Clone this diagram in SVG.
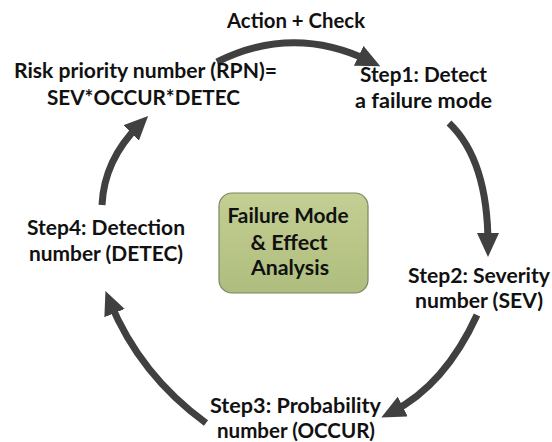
<svg xmlns="http://www.w3.org/2000/svg" width="552" height="442" viewBox="0 0 552 442">
<style>
  text { font-family: Lato, "Open Sans", "Liberation Sans", sans-serif; font-weight: 700; font-size: 21px; fill: #111; text-anchor: middle; }
  .arc { fill: none; stroke: #404040; stroke-width: 7; marker-end: url(#ah); }
</style>
<defs>
  <marker id="ah" markerUnits="userSpaceOnUse" markerWidth="26" markerHeight="24" refX="12" refY="11" orient="auto">
    <path d="M0,0 L24,11 L0,22 Z" fill="#404040"/>
  </marker>
  <linearGradient id="g" x1="0" y1="0" x2="0" y2="1">
    <stop offset="0" stop-color="#c4cf93"/>
    <stop offset="1" stop-color="#aebd7d"/>
  </linearGradient>
</defs>
<rect width="552" height="442" fill="#fff"/>
<g id="connectors">
  <path class="arc" d="M217,62 Q293,24 369.5,61"/>
  <path class="arc" d="M449,123 Q488,160 488,245"/>
  <path class="arc" d="M477,315 Q445,385 392,412"/>
  <path class="arc" d="M206,423 Q140,375 110,302"/>
  <path class="arc" d="M102,205 Q104,160 139.6,124.5"/>
</g>
<g id="action">
  <text x="296" y="28" textLength="138" lengthAdjust="spacingAndGlyphs">Action + Check</text>
</g>
<g id="rpn">
  <text x="145.5" y="78" textLength="263" lengthAdjust="spacingAndGlyphs">Risk priority number (RPN)=</text>
  <text x="143.5" y="105" textLength="193" lengthAdjust="spacingAndGlyphs">SEV*OCCUR*DETEC</text>
</g>
<g id="step1">
  <text x="423.5" y="82" textLength="127" lengthAdjust="spacingAndGlyphs">Step1: Detect</text>
  <text x="423.5" y="108" textLength="137" lengthAdjust="spacingAndGlyphs">a failure mode</text>
</g>
<g id="step2">
  <text x="479" y="283" textLength="142" lengthAdjust="spacingAndGlyphs">Step2: Severity</text>
  <text x="479" y="308" textLength="128" lengthAdjust="spacingAndGlyphs">number (SEV)</text>
</g>
<g id="step3">
  <text x="295.5" y="413" textLength="171" lengthAdjust="spacingAndGlyphs">Step3: Probability</text>
  <text x="296" y="438" textLength="158" lengthAdjust="spacingAndGlyphs">number (OCCUR)</text>
</g>
<g id="step4">
  <text x="106" y="235" textLength="158" lengthAdjust="spacingAndGlyphs">Step4: Detection</text>
  <text x="106" y="261" textLength="154" lengthAdjust="spacingAndGlyphs">number (DETEC)</text>
</g>
<g id="fmea">
  <rect x="219" y="193" width="149" height="100" rx="13" fill="url(#g)" stroke="#7b8660" stroke-width="1.2"/>
  <text x="288" y="223" textLength="121" lengthAdjust="spacingAndGlyphs">Failure Mode</text>
  <text x="289" y="250" textLength="77" lengthAdjust="spacingAndGlyphs">&amp; Effect</text>
  <text x="290" y="275" textLength="78" lengthAdjust="spacingAndGlyphs">Analysis</text>
</g>
</svg>
